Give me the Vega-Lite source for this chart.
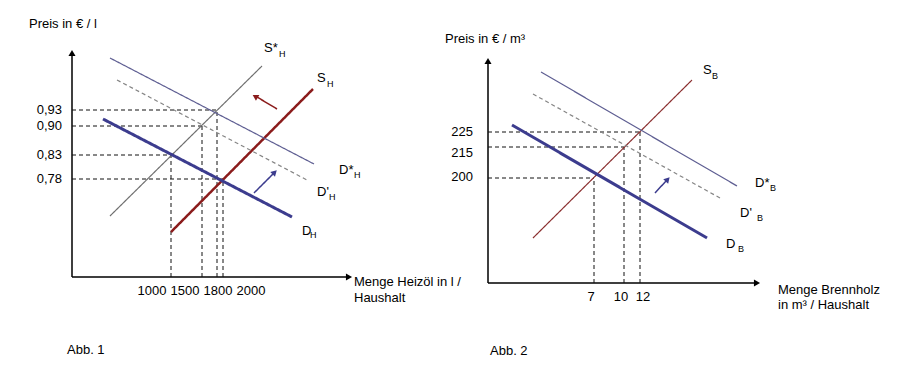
{
  "$schema": "https://vega.github.io/schema/vega-lite/v6.json",
  "background": "white",
  "padding": 0,
  "spacing": 0,
  "bounds": "flush",
  "config": {"view": {"stroke": null}},
  "resolve": {"scale": {"x": "independent", "y": "independent", "color": "independent", "strokeWidth": "independent", "strokeDash": "independent"}},
  "datasets": {
    "abb1": [
      {"kind": "seg", "name": "axis", "q": 0, "p": 0, "q2": 0, "p2": 222},
      {"kind": "seg", "name": "axis", "q": 0, "p": 0, "q2": 276, "p2": 0},
      {"kind": "seg", "name": "guide", "q": 0, "p": 167, "q2": 145, "p2": 167},
      {"kind": "seg", "name": "guide", "q": 0, "p": 151, "q2": 130, "p2": 151},
      {"kind": "seg", "name": "guide", "q": 0, "p": 122, "q2": 99, "p2": 122},
      {"kind": "seg", "name": "guide", "q": 0, "p": 98, "q2": 151, "p2": 98},
      {"kind": "seg", "name": "guide", "q": 99, "p": 0, "q2": 99, "p2": 122},
      {"kind": "seg", "name": "guide", "q": 130, "p": 0, "q2": 130, "p2": 151},
      {"kind": "seg", "name": "guide", "q": 145, "p": 0, "q2": 145, "p2": 167},
      {"kind": "seg", "name": "guide", "q": 151, "p": 0, "q2": 151, "p2": 98},
      {"kind": "seg", "name": "S*", "q": 38, "p": 61, "q2": 190, "p2": 211},
      {"kind": "seg", "name": "S", "q": 99, "p": 45, "q2": 241, "p2": 188},
      {"kind": "seg", "name": "D", "q": 31, "p": 158, "q2": 220, "p2": 60},
      {"kind": "seg", "name": "D*", "q": 38, "p": 219, "q2": 242, "p2": 113},
      {"kind": "seg", "name": "D'", "q": 45, "p": 197, "q2": 235, "p2": 97},
      {"kind": "seg", "name": "shift_red", "q": 205, "p": 168, "q2": 185, "p2": 180},
      {"kind": "seg", "name": "shift_blue", "q": 182, "p": 84, "q2": 201, "p2": 103},
      {"kind": "head_y", "q": 0, "p": 224},
      {"kind": "head_x", "q": 277, "p": 0},
      {"kind": "head_red", "q": 184, "p": 180},
      {"kind": "head_blue", "q": 202, "p": 104},
      {"kind": "t_left", "text": "Preis in € / l", "q": -43, "p": 253},
      {"kind": "t_right", "text": "0,93", "q": -10, "p": 167},
      {"kind": "t_right", "text": "0,90", "q": -10, "p": 151},
      {"kind": "t_right", "text": "0,83", "q": -10, "p": 122},
      {"kind": "t_right", "text": "0,78", "q": -10, "p": 98},
      {"kind": "t_center", "text": "1000", "q": 80, "p": -14},
      {"kind": "t_center", "text": "1500", "q": 113, "p": -14},
      {"kind": "t_center", "text": "1800", "q": 146, "p": -14},
      {"kind": "t_center", "text": "2000", "q": 179, "p": -14},
      {"kind": "t_left", "text": "S*", "q": 192, "p": 229},
      {"kind": "t_sub", "text": "H", "q": 207, "p": 223},
      {"kind": "t_left", "text": "S", "q": 245, "p": 199},
      {"kind": "t_sub", "text": "H", "q": 255, "p": 193},
      {"kind": "t_left", "text": "D*", "q": 267, "p": 107},
      {"kind": "t_sub", "text": "H", "q": 282, "p": 102},
      {"kind": "t_left", "text": "D'", "q": 245, "p": 85},
      {"kind": "t_sub", "text": "H", "q": 257, "p": 80},
      {"kind": "t_left", "text": "D", "q": 230, "p": 46},
      {"kind": "t_sub", "text": "H", "q": 238, "p": 42},
      {"kind": "t_left", "text": "Menge Heizöl in l /", "q": 282, "p": -5},
      {"kind": "t_left", "text": "Haushalt", "q": 282, "p": -21},
      {"kind": "t_left", "text": "Abb. 1", "q": -5, "p": -73}
    ],
    "abb2": [
      {"kind": "seg", "name": "axis", "q": 0, "p": 0, "q2": 0, "p2": 220},
      {"kind": "seg", "name": "axis", "q": 0, "p": 0, "q2": 268, "p2": 0},
      {"kind": "seg", "name": "guide", "q": 0, "p": 151, "q2": 152, "p2": 151},
      {"kind": "seg", "name": "guide", "q": 0, "p": 136, "q2": 136, "p2": 136},
      {"kind": "seg", "name": "guide", "q": 0, "p": 105, "q2": 106, "p2": 105},
      {"kind": "seg", "name": "guide", "q": 106, "p": 0, "q2": 106, "p2": 105},
      {"kind": "seg", "name": "guide", "q": 136, "p": 0, "q2": 136, "p2": 136},
      {"kind": "seg", "name": "guide", "q": 152, "p": 0, "q2": 152, "p2": 151},
      {"kind": "seg", "name": "S", "q": 45, "p": 45, "q2": 204, "p2": 203},
      {"kind": "seg", "name": "D*", "q": 53, "p": 211, "q2": 249, "p2": 97},
      {"kind": "seg", "name": "D'", "q": 45, "p": 189, "q2": 232, "p2": 85},
      {"kind": "seg", "name": "D", "q": 24, "p": 158, "q2": 219, "p2": 45},
      {"kind": "seg", "name": "shift_blue", "q": 167, "p": 90, "q2": 178, "p2": 102},
      {"kind": "head_y", "q": 0, "p": 222},
      {"kind": "head_x", "q": 269, "p": 0},
      {"kind": "head_blue", "q": 179, "p": 103},
      {"kind": "t_left", "text": "Preis in € / m³", "q": -43, "p": 244},
      {"kind": "t_right", "text": "225", "q": -15, "p": 151},
      {"kind": "t_right", "text": "215", "q": -15, "p": 130},
      {"kind": "t_right", "text": "200", "q": -15, "p": 106},
      {"kind": "t_center", "text": "7", "q": 103, "p": -14},
      {"kind": "t_center", "text": "10", "q": 133, "p": -14},
      {"kind": "t_center", "text": "12", "q": 155, "p": -14},
      {"kind": "t_left", "text": "S", "q": 215, "p": 213},
      {"kind": "t_sub", "text": "B", "q": 224, "p": 207},
      {"kind": "t_left", "text": "D*", "q": 267, "p": 100},
      {"kind": "t_sub", "text": "B", "q": 282, "p": 95},
      {"kind": "t_left", "text": "D'", "q": 252, "p": 70},
      {"kind": "t_sub", "text": "B", "q": 269, "p": 65},
      {"kind": "t_left", "text": "D", "q": 238, "p": 39},
      {"kind": "t_sub", "text": "B", "q": 250, "p": 34},
      {"kind": "t_left", "text": "Menge Brennholz", "q": 290, "p": -7},
      {"kind": "t_left", "text": "in m³ / Haushalt", "q": 290, "p": -22},
      {"kind": "t_left", "text": "Abb. 2", "q": 2, "p": -68}
    ]
  },
  "hconcat": [
    {
      "width": 430,
      "height": 379,
      "data": {"name": "abb1"},
      "encoding": {
        "x": {"field": "q", "type": "quantitative", "scale": {"domain": [-72, 358], "nice": false, "zero": false}, "axis": null},
        "y": {"field": "p", "type": "quantitative", "scale": {"domain": [-102, 277], "nice": false, "zero": false}, "axis": null}
      },
      "layer": [
        {
          "transform": [{"filter": "datum.kind === 'seg'"}],
          "mark": {"type": "rule"},
          "encoding": {
            "x2": {"field": "q2"},
            "y2": {"field": "p2"},
            "color": {"field": "name", "type": "nominal", "legend": null, "scale": {"domain": ["axis", "guide", "S*", "S", "D", "D*", "D'", "shift_red", "shift_blue"], "range": ["#000000", "#111111", "#707070", "#8b1c1c", "#3c3c8e", "#5e5e92", "#858585", "#8b1c1c", "#3c3c8e"]}},
            "strokeWidth": {"field": "name", "type": "nominal", "legend": null, "scale": {"type": "ordinal", "domain": ["axis", "guide", "S*", "S", "D", "D*", "D'", "shift_red", "shift_blue"], "range": [1.5, 1, 1.2, 2.5, 3, 1.2, 1.2, 1.5, 1.5]}},
            "strokeDash": {"field": "name", "type": "nominal", "legend": null, "scale": {"domain": ["axis", "guide", "S*", "S", "D", "D*", "D'", "shift_red", "shift_blue"], "range": [[1, 0], [4, 3], [1, 0], [1, 0], [1, 0], [1, 0], [4, 3], [1, 0], [1, 0]]}}
          }
        },
        {"transform": [{"filter": "datum.kind === 'head_y'"}], "mark": {"type": "point", "shape": "triangle-up", "filled": true, "size": 50, "color": "#000000", "opacity": 1, "strokeWidth": 0}},
        {"transform": [{"filter": "datum.kind === 'head_x'"}], "mark": {"type": "point", "shape": "triangle-right", "filled": true, "size": 50, "color": "#000000", "opacity": 1, "strokeWidth": 0}},
        {"transform": [{"filter": "datum.kind === 'head_red'"}], "mark": {"type": "point", "shape": "triangle", "angle": 301, "filled": true, "size": 45, "color": "#8b1c1c", "opacity": 1, "strokeWidth": 0}},
        {"transform": [{"filter": "datum.kind === 'head_blue'"}], "mark": {"type": "point", "shape": "triangle", "angle": 45, "filled": true, "size": 45, "color": "#3c3c8e", "opacity": 1, "strokeWidth": 0}},
        {"transform": [{"filter": "datum.kind === 't_left'"}], "mark": {"type": "text", "align": "left", "baseline": "middle", "font": "Liberation Sans", "fontSize": 13, "color": "#000000"}, "encoding": {"text": {"field": "text"}}},
        {"transform": [{"filter": "datum.kind === 't_right'"}], "mark": {"type": "text", "align": "right", "baseline": "middle", "font": "Liberation Sans", "fontSize": 13, "color": "#000000"}, "encoding": {"text": {"field": "text"}}},
        {"transform": [{"filter": "datum.kind === 't_center'"}], "mark": {"type": "text", "align": "center", "baseline": "middle", "font": "Liberation Sans", "fontSize": 13, "color": "#000000"}, "encoding": {"text": {"field": "text"}}},
        {"transform": [{"filter": "datum.kind === 't_sub'"}], "mark": {"type": "text", "align": "left", "baseline": "middle", "font": "Liberation Sans", "fontSize": 9, "color": "#000000"}, "encoding": {"text": {"field": "text"}}}
      ]
    },
    {
      "width": 475,
      "height": 379,
      "data": {"name": "abb2"},
      "encoding": {
        "x": {"field": "q", "type": "quantitative", "scale": {"domain": [-58, 417], "nice": false, "zero": false}, "axis": null},
        "y": {"field": "p", "type": "quantitative", "scale": {"domain": [-96, 283], "nice": false, "zero": false}, "axis": null}
      },
      "layer": [
        {
          "transform": [{"filter": "datum.kind === 'seg'"}],
          "mark": {"type": "rule"},
          "encoding": {
            "x2": {"field": "q2"},
            "y2": {"field": "p2"},
            "color": {"field": "name", "type": "nominal", "legend": null, "scale": {"domain": ["axis", "guide", "S", "D", "D*", "D'", "shift_blue"], "range": ["#000000", "#111111", "#8b3030", "#3c3c8e", "#5e5e92", "#858585", "#3c3c8e"]}},
            "strokeWidth": {"field": "name", "type": "nominal", "legend": null, "scale": {"type": "ordinal", "domain": ["axis", "guide", "S", "D", "D*", "D'", "shift_blue"], "range": [1.5, 1, 1.2, 3, 1.2, 1.2, 1.5]}},
            "strokeDash": {"field": "name", "type": "nominal", "legend": null, "scale": {"domain": ["axis", "guide", "S", "D", "D*", "D'", "shift_blue"], "range": [[1, 0], [4, 3], [1, 0], [1, 0], [1, 0], [4, 3], [1, 0]]}}
          }
        },
        {"transform": [{"filter": "datum.kind === 'head_y'"}], "mark": {"type": "point", "shape": "triangle-up", "filled": true, "size": 50, "color": "#000000", "opacity": 1, "strokeWidth": 0}},
        {"transform": [{"filter": "datum.kind === 'head_x'"}], "mark": {"type": "point", "shape": "triangle-right", "filled": true, "size": 50, "color": "#000000", "opacity": 1, "strokeWidth": 0}},
        {"transform": [{"filter": "datum.kind === 'head_blue'"}], "mark": {"type": "point", "shape": "triangle", "angle": 43, "filled": true, "size": 45, "color": "#3c3c8e", "opacity": 1, "strokeWidth": 0}},
        {"transform": [{"filter": "datum.kind === 't_left'"}], "mark": {"type": "text", "align": "left", "baseline": "middle", "font": "Liberation Sans", "fontSize": 13, "color": "#000000"}, "encoding": {"text": {"field": "text"}}},
        {"transform": [{"filter": "datum.kind === 't_right'"}], "mark": {"type": "text", "align": "right", "baseline": "middle", "font": "Liberation Sans", "fontSize": 13, "color": "#000000"}, "encoding": {"text": {"field": "text"}}},
        {"transform": [{"filter": "datum.kind === 't_center'"}], "mark": {"type": "text", "align": "center", "baseline": "middle", "font": "Liberation Sans", "fontSize": 13, "color": "#000000"}, "encoding": {"text": {"field": "text"}}},
        {"transform": [{"filter": "datum.kind === 't_sub'"}], "mark": {"type": "text", "align": "left", "baseline": "middle", "font": "Liberation Sans", "fontSize": 9, "color": "#000000"}, "encoding": {"text": {"field": "text"}}}
      ]
    }
  ]
}
